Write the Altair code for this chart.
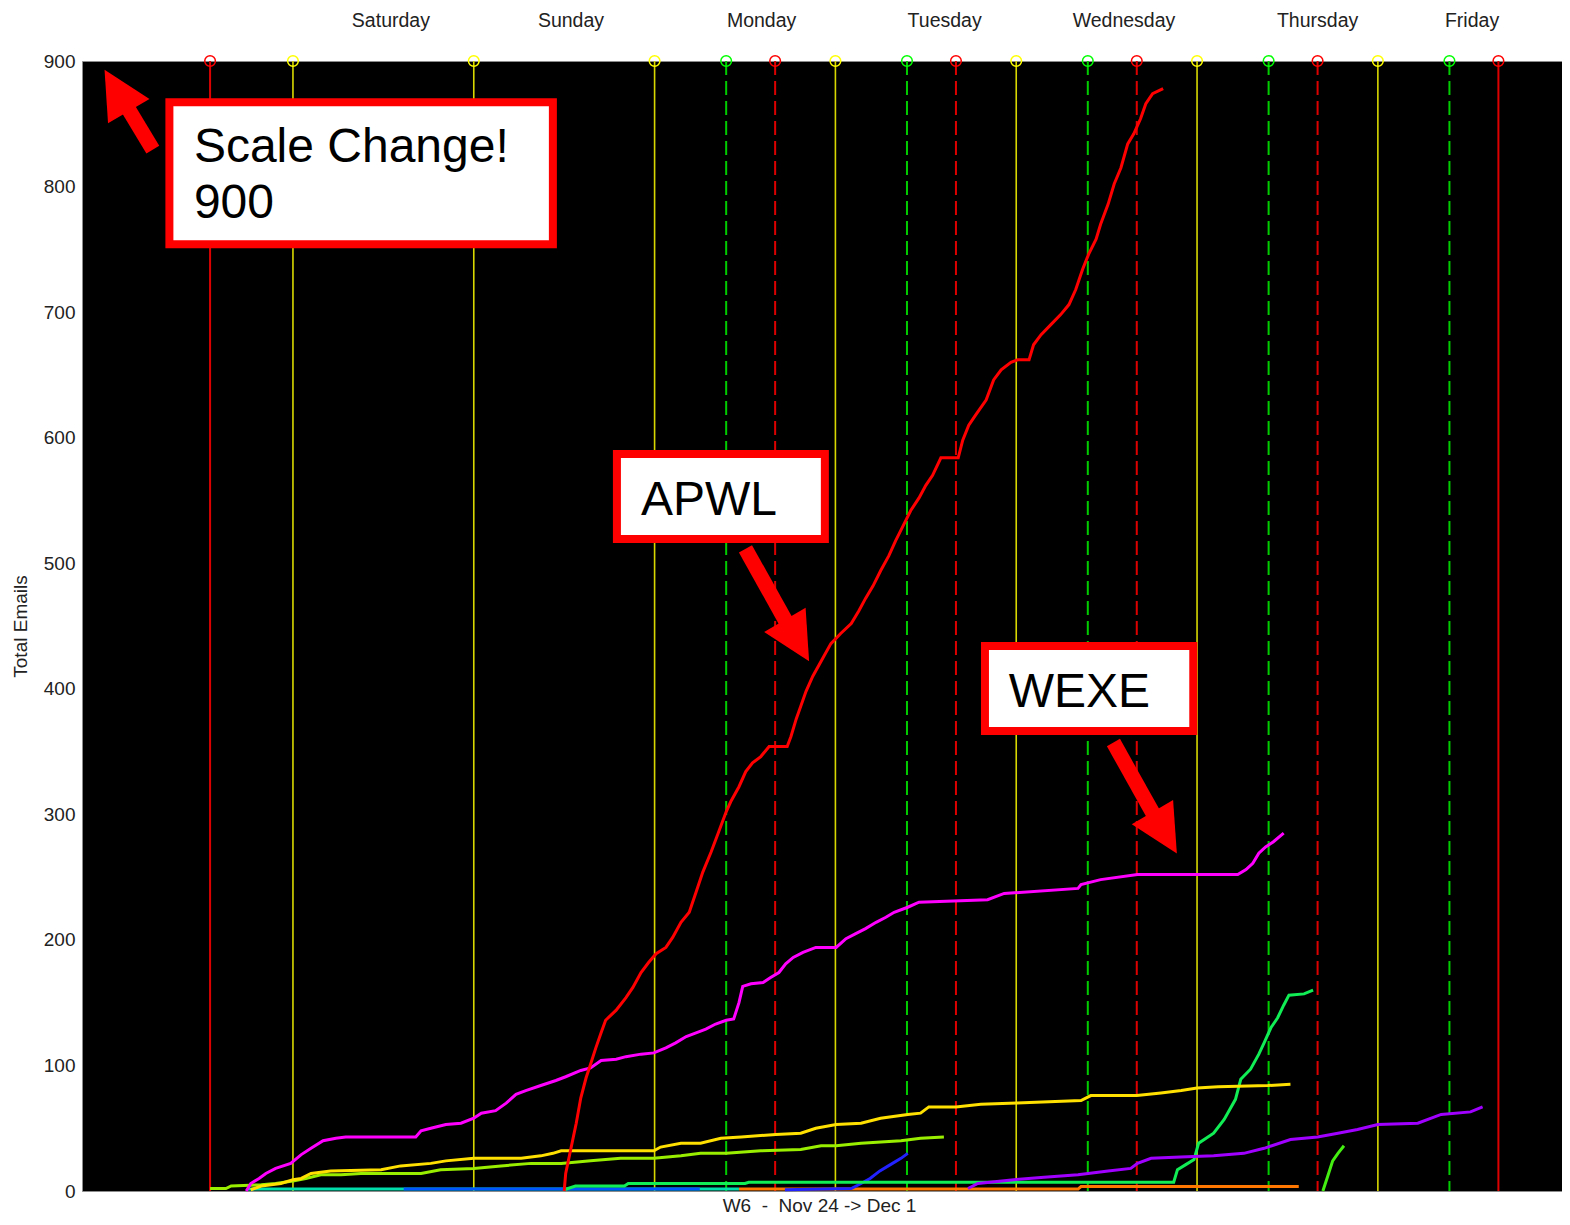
import altair as alt
import pandas as pd

# ---------------- axes / calendar ----------------
Y_TICKS = [0, 100, 200, 300, 400, 500, 600, 700, 800, 900]
X_DOMAIN = [-28.0, 168.44]         # hours from Saturday 00:00
Y_DOMAIN = [0, 900]

DAY_NAMES = ["Saturday", "Sunday", "Monday", "Tuesday", "Wednesday", "Thursday", "Friday"]
DAY_LABEL_HOURS = [13.0, 36.9, 62.2, 86.5, 110.3, 136.0, 156.5]

MIDNIGHT_HOURS = [0, 24, 48, 72, 96, 120, 144]
OPEN_HOURS = [57.5, 81.5, 105.5, 129.5, 153.5]
CLOSE_HOURS = [64, 88, 112, 136]
CLOSE_SOLID_HOURS = [-11, 160]

# ---------------- series ----------------
APWL_H = [36.0, 36.2, 36.9, 37.6, 38.2, 38.9, 39.5, 40.2, 40.9, 41.5, 42.9, 44.2, 45.1, 46.2, 47.2,
          48.2, 49.5, 50.4, 51.5, 52.6, 53.5, 54.4, 55.5, 56.5, 57.5, 58.1, 59.2, 60.1, 61.0, 62.1,
          63.2, 65.6, 66.1, 66.8, 67.4, 68.1, 69.0, 70.1, 71.4, 72.7, 74.1, 75.1, 76.0, 77.0, 78.0,
          79.1, 80.0, 81.0, 82.0, 83.1, 84.0, 84.9, 86.0, 88.3, 88.9, 89.7, 90.6, 92.0, 93.0, 94.0,
          95.3, 96.2, 97.7, 98.3, 99.3, 100.6, 101.9, 103.0, 103.9, 104.8, 105.6, 106.6, 107.2, 108.2,
          109.0, 109.9, 110.8, 111.6, 112.5, 113.2, 114.1, 115.5]
APWL_V = [0, 14, 34, 54, 74, 90, 101, 114, 126, 136, 144, 154, 162, 174, 182,
          189, 194, 202, 214, 222, 238, 254, 270, 286, 302, 310, 322, 334, 341, 346,
          354, 354, 362, 376, 386, 398, 410, 422, 436, 444, 452, 462, 472, 482, 494,
          506, 518, 530, 542, 552, 562, 570, 584, 584, 598, 610, 618, 630, 646, 654,
          660, 662, 662, 674, 682, 690, 698, 706, 718, 734, 746, 758, 770, 786,
          802, 815, 834, 842, 854, 866, 874, 878]

WEXE_H = [-6.2, -5.6, -4.5, -3.6, -2.3, -0.3, 1.1, 2.4, 4.0, 5.7, 7.0, 16.3, 17.0, 18.3, 20.3,
          22.3, 24.0, 25.0, 26.9, 28.3, 29.6, 30.9, 32.9, 34.9, 36.2, 38.2, 39.5, 40.9, 42.9, 44.2,
          46.2, 47.9, 49.5, 50.8, 52.2, 53.5, 54.8, 56.1, 57.5, 58.5, 59.2, 59.7, 60.8, 62.4, 63.4,
          64.5, 65.4, 66.4, 67.7, 69.4, 72.1, 73.4, 74.7, 76.0, 77.4, 78.7, 79.8, 81.6, 83.1, 92.2,
          94.4, 104.2, 104.6, 107.2, 112.1, 125.4, 126.5, 127.4, 128.2, 129.1, 130.1, 131.5]
WEXE_V = [0, 6, 10, 14, 18, 22, 29, 34, 40, 42, 43, 43, 48, 50, 53,
          54, 58, 62, 64, 70, 77, 80, 84, 88, 91, 96, 98, 104, 105, 107,
          109, 110, 114, 118, 123, 126, 129, 133, 136, 137, 150, 163, 165, 166, 170,
          174, 181, 186, 190, 194, 194, 201, 205, 209, 214, 218, 222, 226, 230, 232,
          237, 241, 244, 248, 252, 252, 256, 261, 269, 274, 278, 285]

GOLD_H = [-5.6, -4.2, -1.6, 0.0, 1.1, 2.4, 5.0, 11.7, 14.3, 18.3, 20.3, 24.0, 30.3, 32.9, 34.5,
          35.6, 47.9, 48.8, 51.5, 54.1, 56.8, 59.5, 64.1, 67.4, 69.4, 72.1, 75.4, 78.0, 81.6, 83.3,
          84.4, 88.0, 91.3, 96.1, 104.6, 105.9, 112.0, 115.2, 117.9, 120.0, 122.8, 129.4, 132.4]
GOLD_V = [1, 4, 6, 9, 10, 14, 16, 17, 20, 22, 24, 26, 26, 28, 30,
          32, 32, 35, 38, 38, 42, 43, 45, 46, 50, 53, 54, 58, 61, 62,
          67, 67, 69, 70, 72, 76, 76, 78, 80, 82, 83, 84, 85]

CHART_H = [-11.0, -8.9, -8.2, -4.2, -2.3, 0.0, 1.7, 3.7, 6.4, 9.0, 17.0, 19.6, 24.0, 27.6, 31.6,
           35.6, 39.5, 43.5, 47.9, 51.5, 54.1, 57.5, 62.1, 67.4, 70.1, 72.1, 75.4, 80.7, 83.3, 86.4]
CHART_V = [2, 2, 4, 5, 6, 8, 10, 13, 13, 14, 14, 17, 18, 20, 22,
           22, 24, 26, 26, 28, 30, 30, 32, 33, 36, 36, 38, 40, 42, 43]

SPRING_H = [36.0, 37.5, 44.0, 44.5, 60.0, 60.5, 116.9, 117.4, 118.5, 119.6, 120.2, 121.2, 122.2,
            123.6, 125.1, 125.8, 127.1, 128.2, 128.9, 129.8, 130.7, 131.5, 132.2, 134.2, 135.4]
SPRING_V = [1, 4, 4, 6, 6, 7, 7, 17, 21, 25, 38, 42, 46,
            57, 73, 89, 97, 109, 118, 130, 138, 148, 156, 157, 160]

PURPLE_H = [89.6, 90.9, 95.7, 99.7, 104.2, 108.2, 111.2, 112.1, 113.9, 117.8, 122.2, 126.2, 128.9,
            132.4, 136.0, 138.7, 141.3, 144.0, 149.3, 152.4, 156.3, 157.9]
PURPLE_V = [2, 6, 9, 11, 13, 16, 18, 22, 26, 27, 28, 30, 34,
            41, 43, 46, 49, 53, 54, 61, 63, 67]

BLUE_H = [65.3, 74.1, 75.4, 76.6, 77.9, 79.3, 80.7, 81.6]
BLUE_V = [1, 2, 6, 10, 16, 21, 26, 30]

ROYAL_H = [14.7, 54.0]
ROYAL_V = [1.5, 1.5]

TEAL_H = [-6.1, 59.2]
TEAL_V = [1.5, 1.5]

ORANGE_H = [59.2, 104.2, 104.6, 133.5]
ORANGE_V = [1.5, 1.5, 3.5, 3.5]

LIME_H = [136.7, 137.3, 138.0, 138.7, 139.5]
LIME_V = [0, 11, 24, 30, 36]

SERIES = [  # drawing order, bottom first
    ("orange", "#FF7700", ORANGE_H, ORANGE_V),
    ("teal", "#00DDAA", TEAL_H, TEAL_V),
    ("royal", "#0055FF", ROYAL_H, ROYAL_V),
    ("blue", "#2222FF", BLUE_H, BLUE_V),
    ("spring", "#11EE55", SPRING_H, SPRING_V),
    ("lime", "#44EE11", LIME_H, LIME_V),
    ("chartreuse", "#99EE00", CHART_H, CHART_V),
    ("gold", "#FFE000", GOLD_H, GOLD_V),
    ("purple", "#A000FF", PURPLE_H, PURPLE_V),
    ("WEXE", "#FF00FF", WEXE_H, WEXE_V),
    ("APWL", "#FF0000", APWL_H, APWL_V),
]

# ---------------- annotations (data units) ----------------
BOX_LABELS = ["scale", "APWL", "WEXE"]
BOX_H1 = [-16.4, 43.0, 91.85]
BOX_H2 = [34.5, 70.6, 119.5]
BOX_V1 = [867.1, 587.0, 434.1]
BOX_V2 = [754.0, 519.3, 366.4]

NOTE_TEXT = ["Scale Change!", "900", "APWL", "WEXE"]
NOTE_H = [-13.15, -13.15, 46.2, 95.0]
NOTE_V = [819.8, 774.7, 538.4, 385.5]

SHAFT_H1 = [-18.6, 60.06, 108.9]
SHAFT_V1 = [829.5, 511.5, 357.2]
SHAFT_H2 = [-22.0, 65.7, 114.5]
SHAFT_V2 = [863.3, 450.8, 297.1]

HEAD_H = [-23.4, 66.9, 115.7]
HEAD_V = [876.5, 438.4, 285.3]
HEAD_ANGLE = [329.7, 149.7, 149.4]

FONT = "Liberation Sans"
TXT = "#222222"
NB = "\u00a0"

xscale = alt.Scale(domain=X_DOMAIN, nice=False, zero=False)
yscale = alt.Scale(domain=Y_DOMAIN, nice=False, zero=False)
xaxis = alt.Axis(title=f"W6 {NB}-{NB} Nov 24 -> Dec 1", labels=False, ticks=False, domain=False,
                 grid=False, titleFont=FONT, titleFontSize=19, titleFontWeight="normal",
                 titleColor=TXT, titlePadding=5, titleX=737)
yaxis = alt.Axis(title="Total Emails", values=Y_TICKS, ticks=False, domain=False, grid=False,
                 labelFont=FONT, labelFontSize=19, labelColor=TXT, labelPadding=7,
                 titleFont=FONT, titleFontSize=19, titleFontWeight="normal", titleColor=TXT,
                 titlePadding=13)


def X(field):
    return alt.X(field, type="quantitative", scale=xscale, axis=xaxis)


def Y(field):
    return alt.Y(field, type="quantitative", scale=yscale, axis=yaxis)


layers = []


def rule_layer(hours, color, dash=None, width=2.0):
    df = pd.DataFrame({"h": hours, "top": [900] * len(hours), "bottom": [0] * len(hours)})
    kw = dict(color=color, strokeWidth=width)
    if dash:
        kw["strokeDash"] = dash
    return alt.Chart(df).mark_rule(**kw).encode(x=X("h"), y=Y("top"), y2="bottom")


def circle_layer(hours, color):
    df = pd.DataFrame({"h": hours, "top": [900] * len(hours)})
    return alt.Chart(df).mark_point(shape="circle", filled=False, size=113, strokeWidth=1.5,
                                    color=color, opacity=1).encode(x=X("h"), y=Y("top"))


layers.append(rule_layer(CLOSE_SOLID_HOURS, "#DD0000", width=2))
layers.append(rule_layer(MIDNIGHT_HOURS, "#D8D800", width=1.6))
layers.append(rule_layer(OPEN_HOURS, "#00CC00", dash=[14, 6], width=2))
layers.append(rule_layer(CLOSE_HOURS, "#DD0000", dash=[14, 6], width=2))
layers.append(circle_layer(CLOSE_SOLID_HOURS + CLOSE_HOURS, "#FF0000"))
layers.append(circle_layer(MIDNIGHT_HOURS, "#FFFF00"))
layers.append(circle_layer(OPEN_HOURS, "#00FF00"))

# series
for name, color, hs, vs in SERIES:
    df = pd.DataFrame({"h": hs, "v": vs, "i": list(range(len(hs)))})
    layers.append(alt.Chart(df).mark_line(color=color, strokeWidth=3, strokeJoin="miter")
                  .encode(x=X("h"), y=Y("v"), order="i:Q"))

# day labels on top
days_df = pd.DataFrame({"h": DAY_LABEL_HOURS, "name": DAY_NAMES})
layers.append(alt.Chart(days_df).mark_text(font=FONT, fontSize=19.5, color=TXT, align="center",
                                           baseline="alphabetic")
              .encode(x=X("h"), y=alt.value(-34), text="name:N"))

# annotation boxes
box_df = pd.DataFrame({"label": BOX_LABELS, "x1": BOX_H1, "x2": BOX_H2, "y1": BOX_V1, "y2": BOX_V2})
layers.append(alt.Chart(box_df).mark_rect(fill="white", stroke="#FF0000", strokeWidth=8)
              .encode(x=X("x1"), x2="x2", y=Y("y1"), y2="y2"))

note_df = pd.DataFrame({"t": NOTE_TEXT, "h": NOTE_H, "v": NOTE_V})
layers.append(alt.Chart(note_df).mark_text(font=FONT, fontSize=48, color="black", align="left",
                                           baseline="alphabetic")
              .encode(x=X("h"), y=Y("v"), text="t:N"))

# arrows
shaft_df = pd.DataFrame({"x1": SHAFT_H1, "y1": SHAFT_V1, "x2": SHAFT_H2, "y2": SHAFT_V2})
layers.append(alt.Chart(shaft_df).mark_rule(color="#FF0000", strokeWidth=15, strokeCap="butt")
              .encode(x=X("x1"), y=Y("y1"), x2="x2", y2="y2"))

head_df = pd.DataFrame({"h": HEAD_H, "v": HEAD_V, "a": HEAD_ANGLE})
layers.append(alt.Chart(head_df).mark_point(shape="M0,-1L1,1L-1,1Z", filled=True, size=2304,
                                            color="#FF0000", opacity=1, strokeWidth=0)
              .encode(x=X("h"), y=Y("v"), angle=alt.Angle("a:Q", scale=None)))

chart = alt.layer(*layers).properties(
    width=1480, height=1130,
    padding={"left": 74, "top": 53, "right": 0, "bottom": 25},
    autosize=alt.AutoSizeParams(type="none"),
    background="white",
).configure_view(fill="black", stroke="#8c8c8c", strokeWidth=1)

chart.save("out.html", embed_options={"renderer": "svg", "actions": False})
